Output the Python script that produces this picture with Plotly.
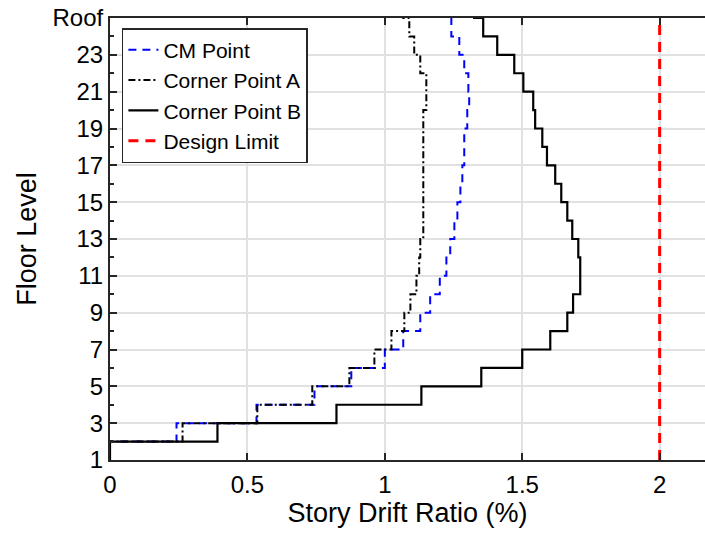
import plotly.graph_objects as go

# Floor levels 1..25 (25 = Roof); each value is the drift of the story above that floor
floors = list(range(1, 26))
cm_point = [0.0, 0.242, 0.533, 0.744, 0.878, 1.0, 1.067, 1.129, 1.165, 1.2,
            1.224, 1.238, 1.253, 1.264, 1.275, 1.282, 1.289, 1.289, 1.3, 1.307,
            1.304, 1.289, 1.271, 1.242, 1.227]
corner_a = [0.0, 0.264, 0.536, 0.736, 0.871, 0.962, 1.024, 1.071, 1.093, 1.115,
            1.125, 1.129, 1.14, 1.14, 1.14, 1.14, 1.14, 1.14, 1.14, 1.151,
            1.151, 1.129, 1.107, 1.089, 1.067]
corner_b = [0.0, 0.391, 0.824, 1.133, 1.351, 1.5, 1.602, 1.664, 1.685, 1.711,
            1.711, 1.704, 1.682, 1.664, 1.642, 1.62, 1.59, 1.573, 1.547, 1.54,
            1.504, 1.471, 1.409, 1.358, 1.325]
design_limit = 2.0

y_tickvals = list(range(1, 26, 2))
y_ticktext = [str(v) for v in range(1, 24, 2)] + ["Roof"]
x_tickvals = [0, 0.5, 1, 1.5, 2]
x_ticktext = ["0", "0.5", "1", "1.5", "2"]


def stairs(vals, levels):
    xs, ys = [], []
    for v, f in zip(vals, levels):
        xs += [v, v]
        ys += [f, f + 1]
    return xs, ys


FONT = "Liberation Sans, Arial, Helvetica, sans-serif"
fig = go.Figure()

x, y = stairs(cm_point, floors)
fig.add_trace(go.Scatter(x=x, y=y, mode="lines", name="CM Point",
                         line=dict(color="#0000ff", width=2, dash="8px,6px")))
x, y = stairs(corner_a, floors)
fig.add_trace(go.Scatter(x=x, y=y, mode="lines", name="Corner Point A",
                         line=dict(color="black", width=2, dash="7px,3px,2px,3px")))
x, y = stairs(corner_b, floors)
fig.add_trace(go.Scatter(x=x, y=y, mode="lines", name="Corner Point B",
                         line=dict(color="black", width=2.2)))
fig.add_trace(go.Scatter(x=[design_limit, design_limit], y=[floors[0], floors[-1]],
                         mode="lines", name="Design Limit",
                         line=dict(color="#ff0000", width=3, dash="10px,7px")))

fig.update_layout(
    width=705, height=535,
    margin=dict(l=110, r=0, t=18, b=75),
    paper_bgcolor="white", plot_bgcolor="white",
    font=dict(family=FONT, size=24, color="black"),
    showlegend=True,
    legend=dict(x=0.02, y=0.977, xanchor="left", yanchor="top",
                bgcolor="white", bordercolor="#262626", borderwidth=1.5,
                font=dict(size=21), itemwidth=30, tracegroupgap=0),
)
fig.update_xaxes(
    range=[0, 2.165], tickvals=x_tickvals, ticktext=x_ticktext,
    tickfont=dict(size=24),
    showgrid=True, gridcolor="#e1e1e1", gridwidth=1.5,
    showline=True, linecolor="#262626", linewidth=2, mirror="ticks",
    ticks="inside", ticklen=7, tickwidth=1.5, tickcolor="#262626",
    ticklabelstandoff=2,
    zeroline=False,
    title=dict(text="Story Drift Ratio (%)", font=dict(size=27), standoff=6),
)
fig.update_yaxes(
    range=[1, 25], tickvals=y_tickvals, ticktext=y_ticktext,
    tickfont=dict(size=24),
    showgrid=True, gridcolor="#e1e1e1", gridwidth=1.5,
    showline=True, linecolor="#262626", linewidth=2, mirror=False,
    ticks="inside", ticklen=7, tickwidth=1.5, tickcolor="#262626",
    minor=dict(tickvals=list(range(2, 25, 2)), ticks="inside", ticklen=4,
               tickwidth=1.5, tickcolor="#262626", showgrid=False),
    zeroline=False,
    title=dict(text="Floor Level", font=dict(size=27), standoff=8),
)

fig.write_html("out.html")
